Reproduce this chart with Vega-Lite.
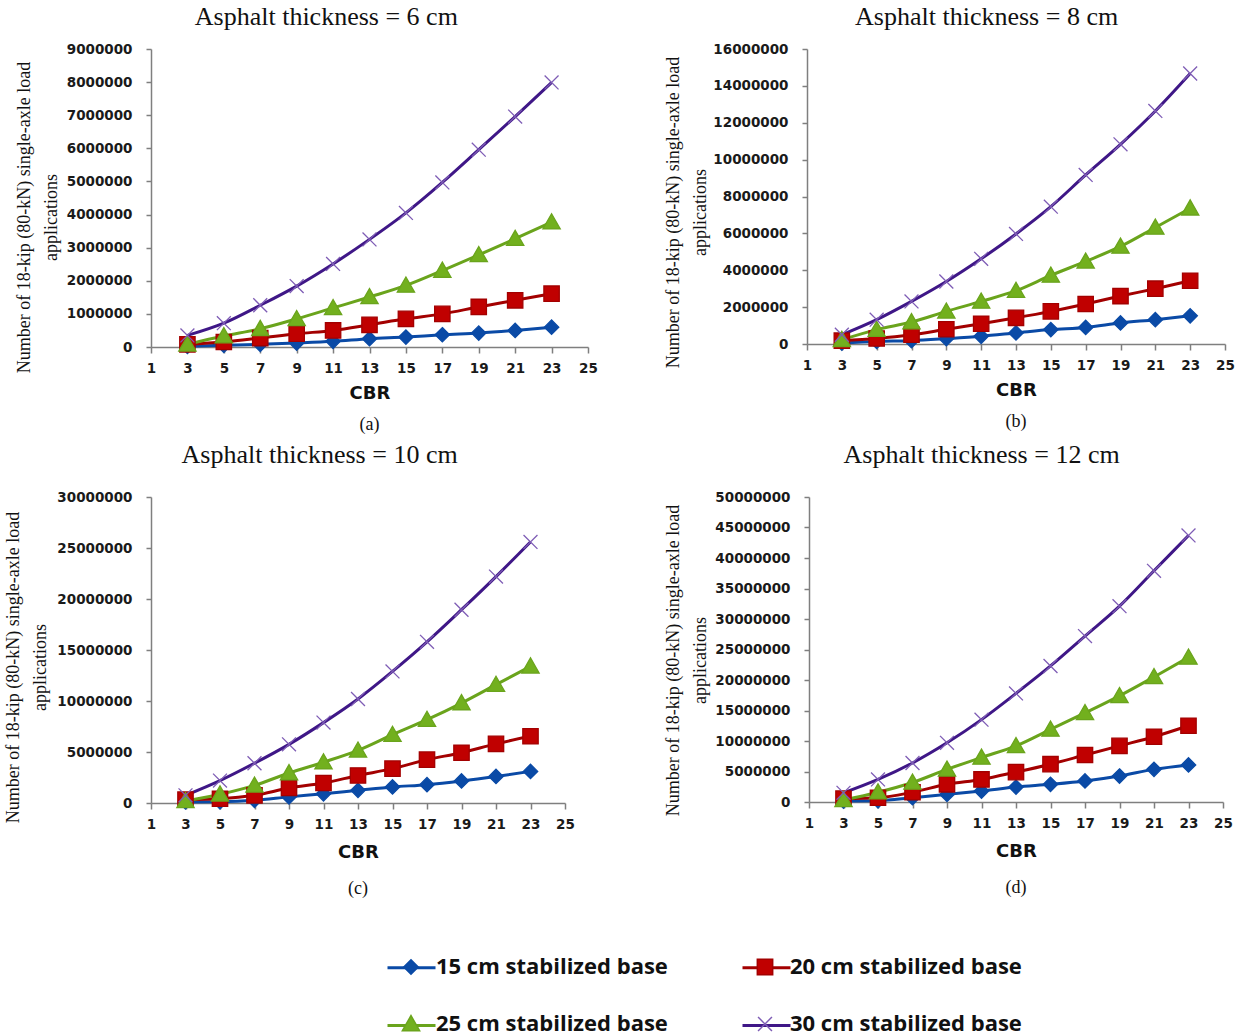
{
  "$schema": "https://vega.github.io/schema/vega-lite/v6.json",
  "padding": {"left": 4, "top": 4, "right": 0, "bottom": 0},
  "background": "white",
  "data": {"values": [
    {"p":"a","x":3,"s":15,"v":20000},{"p":"a","x":5,"s":15,"v":50000},{"p":"a","x":7,"s":15,"v":80000},{"p":"a","x":9,"s":15,"v":120000},{"p":"a","x":11,"s":15,"v":170000},{"p":"a","x":13,"s":15,"v":250000},{"p":"a","x":15,"s":15,"v":300000},{"p":"a","x":17,"s":15,"v":370000},{"p":"a","x":19,"s":15,"v":420000},{"p":"a","x":21,"s":15,"v":500000},{"p":"a","x":23,"s":15,"v":600000},
    {"p":"a","x":3,"s":20,"v":80000},{"p":"a","x":5,"s":20,"v":150000},{"p":"a","x":7,"s":20,"v":270000},{"p":"a","x":9,"s":20,"v":400000},{"p":"a","x":11,"s":20,"v":500000},{"p":"a","x":13,"s":20,"v":670000},{"p":"a","x":15,"s":20,"v":850000},{"p":"a","x":17,"s":20,"v":1000000},{"p":"a","x":19,"s":20,"v":1210000},{"p":"a","x":21,"s":20,"v":1410000},{"p":"a","x":23,"s":20,"v":1610000},
    {"p":"a","x":3,"s":25,"v":80000},{"p":"a","x":5,"s":25,"v":330000},{"p":"a","x":7,"s":25,"v":550000},{"p":"a","x":9,"s":25,"v":850000},{"p":"a","x":11,"s":25,"v":1180000},{"p":"a","x":13,"s":25,"v":1510000},{"p":"a","x":15,"s":25,"v":1860000},{"p":"a","x":17,"s":25,"v":2310000},{"p":"a","x":19,"s":25,"v":2780000},{"p":"a","x":21,"s":25,"v":3270000},{"p":"a","x":23,"s":25,"v":3770000},
    {"p":"a","x":3,"s":30,"v":350000},{"p":"a","x":5,"s":30,"v":720000},{"p":"a","x":7,"s":30,"v":1260000},{"p":"a","x":9,"s":30,"v":1840000},{"p":"a","x":11,"s":30,"v":2510000},{"p":"a","x":13,"s":30,"v":3250000},{"p":"a","x":15,"s":30,"v":4050000},{"p":"a","x":17,"s":30,"v":4970000},{"p":"a","x":19,"s":30,"v":5960000},{"p":"a","x":21,"s":30,"v":6960000},{"p":"a","x":23,"s":30,"v":7990000},
    {"p":"b","x":3,"s":15,"v":50000},{"p":"b","x":5,"s":15,"v":140000},{"p":"b","x":7,"s":15,"v":180000},{"p":"b","x":9,"s":15,"v":290000},{"p":"b","x":11,"s":15,"v":420000},{"p":"b","x":13,"s":15,"v":600000},{"p":"b","x":15,"s":15,"v":780000},{"p":"b","x":17,"s":15,"v":900000},{"p":"b","x":19,"s":15,"v":1140000},{"p":"b","x":21,"s":15,"v":1320000},{"p":"b","x":23,"s":15,"v":1530000},
    {"p":"b","x":3,"s":20,"v":180000},{"p":"b","x":5,"s":20,"v":300000},{"p":"b","x":7,"s":20,"v":500000},{"p":"b","x":9,"s":20,"v":800000},{"p":"b","x":11,"s":20,"v":1100000},{"p":"b","x":13,"s":20,"v":1420000},{"p":"b","x":15,"s":20,"v":1770000},{"p":"b","x":17,"s":20,"v":2170000},{"p":"b","x":19,"s":20,"v":2600000},{"p":"b","x":21,"s":20,"v":3000000},{"p":"b","x":23,"s":20,"v":3430000},
    {"p":"b","x":3,"s":25,"v":230000},{"p":"b","x":5,"s":25,"v":780000},{"p":"b","x":7,"s":25,"v":1190000},{"p":"b","x":9,"s":25,"v":1770000},{"p":"b","x":11,"s":25,"v":2310000},{"p":"b","x":13,"s":25,"v":2890000},{"p":"b","x":15,"s":25,"v":3720000},{"p":"b","x":17,"s":25,"v":4480000},{"p":"b","x":19,"s":25,"v":5290000},{"p":"b","x":21,"s":25,"v":6320000},{"p":"b","x":23,"s":25,"v":7360000},
    {"p":"b","x":3,"s":30,"v":500000},{"p":"b","x":5,"s":30,"v":1320000},{"p":"b","x":7,"s":30,"v":2310000},{"p":"b","x":9,"s":30,"v":3390000},{"p":"b","x":11,"s":30,"v":4620000},{"p":"b","x":13,"s":30,"v":5970000},{"p":"b","x":15,"s":30,"v":7450000},{"p":"b","x":17,"s":30,"v":9170000},{"p":"b","x":19,"s":30,"v":10830000},{"p":"b","x":21,"s":30,"v":12640000},{"p":"b","x":23,"s":30,"v":14670000},
    {"p":"c","x":3,"s":15,"v":100000},{"p":"c","x":5,"s":15,"v":120000},{"p":"c","x":7,"s":15,"v":260000},{"p":"c","x":9,"s":15,"v":600000},{"p":"c","x":11,"s":15,"v":900000},{"p":"c","x":13,"s":15,"v":1240000},{"p":"c","x":15,"s":15,"v":1570000},{"p":"c","x":17,"s":15,"v":1800000},{"p":"c","x":19,"s":15,"v":2160000},{"p":"c","x":21,"s":15,"v":2600000},{"p":"c","x":23,"s":15,"v":3100000},
    {"p":"c","x":3,"s":20,"v":330000},{"p":"c","x":5,"s":20,"v":420000},{"p":"c","x":7,"s":20,"v":750000},{"p":"c","x":9,"s":20,"v":1470000},{"p":"c","x":11,"s":20,"v":1960000},{"p":"c","x":13,"s":20,"v":2700000},{"p":"c","x":15,"s":20,"v":3370000},{"p":"c","x":17,"s":20,"v":4250000},{"p":"c","x":19,"s":20,"v":4930000},{"p":"c","x":21,"s":20,"v":5800000},{"p":"c","x":23,"s":20,"v":6540000},
    {"p":"c","x":3,"s":25,"v":200000},{"p":"c","x":5,"s":25,"v":850000},{"p":"c","x":7,"s":25,"v":1730000},{"p":"c","x":9,"s":25,"v":2940000},{"p":"c","x":11,"s":25,"v":4000000},{"p":"c","x":13,"s":25,"v":5160000},{"p":"c","x":15,"s":25,"v":6700000},{"p":"c","x":17,"s":25,"v":8170000},{"p":"c","x":19,"s":25,"v":9800000},{"p":"c","x":21,"s":25,"v":11600000},{"p":"c","x":23,"s":25,"v":13400000},
    {"p":"c","x":3,"s":30,"v":750000},{"p":"c","x":5,"s":30,"v":2200000},{"p":"c","x":7,"s":30,"v":3900000},{"p":"c","x":9,"s":30,"v":5750000},{"p":"c","x":11,"s":30,"v":7880000},{"p":"c","x":13,"s":30,"v":10200000},{"p":"c","x":15,"s":30,"v":12900000},{"p":"c","x":17,"s":30,"v":15800000},{"p":"c","x":19,"s":30,"v":18950000},{"p":"c","x":21,"s":30,"v":22200000},{"p":"c","x":23,"s":30,"v":25600000},
    {"p":"d","x":3,"s":15,"v":150000},{"p":"d","x":5,"s":15,"v":200000},{"p":"d","x":7,"s":15,"v":700000},{"p":"d","x":9,"s":15,"v":1250000},{"p":"d","x":11,"s":15,"v":1800000},{"p":"d","x":13,"s":15,"v":2450000},{"p":"d","x":15,"s":15,"v":2900000},{"p":"d","x":17,"s":15,"v":3450000},{"p":"d","x":19,"s":15,"v":4260000},{"p":"d","x":21,"s":15,"v":5350000},{"p":"d","x":23,"s":15,"v":6070000},
    {"p":"d","x":3,"s":20,"v":550000},{"p":"d","x":5,"s":20,"v":700000},{"p":"d","x":7,"s":20,"v":1600000},{"p":"d","x":9,"s":20,"v":2900000},{"p":"d","x":11,"s":20,"v":3700000},{"p":"d","x":13,"s":20,"v":4900000},{"p":"d","x":15,"s":20,"v":6200000},{"p":"d","x":17,"s":20,"v":7700000},{"p":"d","x":19,"s":20,"v":9200000},{"p":"d","x":21,"s":20,"v":10700000},{"p":"d","x":23,"s":20,"v":12500000},
    {"p":"d","x":3,"s":25,"v":330000},{"p":"d","x":5,"s":25,"v":1600000},{"p":"d","x":7,"s":25,"v":3200000},{"p":"d","x":9,"s":25,"v":5350000},{"p":"d","x":11,"s":25,"v":7300000},{"p":"d","x":13,"s":25,"v":9200000},{"p":"d","x":15,"s":25,"v":11900000},{"p":"d","x":17,"s":25,"v":14600000},{"p":"d","x":19,"s":25,"v":17400000},{"p":"d","x":21,"s":25,"v":20500000},{"p":"d","x":23,"s":25,"v":23700000},
    {"p":"d","x":3,"s":30,"v":1500000},{"p":"d","x":5,"s":30,"v":3700000},{"p":"d","x":7,"s":30,"v":6400000},{"p":"d","x":9,"s":30,"v":9700000},{"p":"d","x":11,"s":30,"v":13500000},{"p":"d","x":13,"s":30,"v":17800000},{"p":"d","x":15,"s":30,"v":22300000},{"p":"d","x":17,"s":30,"v":27200000},{"p":"d","x":19,"s":30,"v":32100000},{"p":"d","x":21,"s":30,"v":37900000},{"p":"d","x":23,"s":30,"v":43700000}
  ]},
  "vconcat": [
    {"spacing": 66, "hconcat": [
      {"title": {"text": "Asphalt thickness = 6 cm", "dx": 20},
       "vconcat": [{
        "width": 437, "height": 298,
        "title": {"text": "(a)", "orient": "bottom", "frame": "group", "font": "Liberation Serif", "fontSize": 18, "fontWeight": "normal", "offset": 13, "color": "#111"},
        "transform": [{"filter": "datum.p == 'a'"}],
        "encoding": {
          "x": {"field": "x", "type": "quantitative", "scale": {"domain": [1, 25], "nice": false}, "axis": {"values": [1,3,5,7,9,11,13,15,17,19,21,23,25], "title": "CBR"}},
          "y": {"field": "v", "type": "quantitative", "scale": {"domain": [0, 9000000], "nice": false}, "axis": {"values": [0,1000000,2000000,3000000,4000000,5000000,6000000,7000000,8000000,9000000], "format": "d", "titleY": 168, "titlePadding": 6, "title": ["Number of 18-kip (80-kN) single-axle load", "applications"]}}
        },
        "layer": [
          {"mark": {"type": "line", "interpolate": "monotone", "strokeWidth": 3},
           "encoding": {
             "color": {"field": "s", "type": "nominal", "scale": {"domain": [15,20,25,30], "range": ["#0A4AA6","#A30000","#6AA41C","#3F1787"]},
               "legend": {"values": [15,20,25,30], "orient": "none", "legendX": 235, "legendY": 893, "columns": 2, "direction": "horizontal", "title": null, "symbolType": "stroke", "symbolSize": 2304, "symbolStrokeWidth": 3, "symbolOpacity": 1, "labelFont": "Open Sans", "labelFontSize": 22, "labelFontWeight": "bold", "labelColor": "#111", "labelOpacity": 0, "columnPadding": 67, "rowPadding": 21, "labelOffset": 0, "labelLimit": 400, "labelExpr": "datum.label + ' cm stabilized base'"}}
           }},
          {"mark": {"type": "point", "filled": true, "size": 2304, "opacity": 1, "strokeWidth": 1.3},
           "encoding": {
             "shape": {"field": "s", "type": "nominal", "scale": {"domain": [15,20,25,30,0], "range": ["M0,-0.3L0.3,0L0,0.3L-0.3,0Z", "M-0.32,-0.32H0.32V0.32H-0.32Z", "M0,-0.35L0.36,0.28H-0.36Z", "M-0.29,-0.29L0.29,0.29M-0.29,0.29L0.29,-0.29", "circle"]},
               "legend": {"values": [15,20,25,30], "orient": "none", "legendX": 235, "legendY": 893, "columns": 2, "direction": "horizontal", "title": null, "symbolSize": 2304, "symbolStrokeWidth": 1.5, "symbolOpacity": 1, "labelFont": "Open Sans", "labelFontSize": 22, "labelFontWeight": "bold", "labelColor": "#111", "columnPadding": 72, "rowPadding": 21, "labelOffset": 0, "labelLimit": 400, "labelExpr": "datum.label + ' cm stabilized base'"}},
             "fill": {"field": "s", "type": "nominal", "scale": {"domain": [15,20,25,30,0], "range": ["#0A4AA6","#C00000","#72B01E","#7E5CB5","#000000"]},
               "legend": {"values": [15,20,25,30], "orient": "none", "legendX": 235, "legendY": 893, "columns": 2, "direction": "horizontal", "title": null, "symbolSize": 2304, "symbolStrokeWidth": 1.5, "symbolOpacity": 1, "labelFont": "Open Sans", "labelFontSize": 22, "labelFontWeight": "bold", "labelColor": "#111", "columnPadding": 72, "rowPadding": 21, "labelOffset": 0, "labelLimit": 400, "labelExpr": "datum.label + ' cm stabilized base'"}},
             "stroke": {"field": "s", "type": "nominal", "scale": {"domain": [15,20,25,30,0], "range": ["#0A4AA6","#A30000","#6AA41C","#7E5CB5","#000000"]},
               "legend": {"values": [15,20,25,30], "orient": "none", "legendX": 235, "legendY": 893, "columns": 2, "direction": "horizontal", "title": null, "symbolSize": 2304, "symbolStrokeWidth": 1.5, "symbolOpacity": 1, "labelFont": "Open Sans", "labelFontSize": 22, "labelFontWeight": "bold", "labelColor": "#111", "columnPadding": 72, "rowPadding": 21, "labelOffset": 0, "labelLimit": 400, "labelExpr": "datum.label + ' cm stabilized base'"}}
           }}
        ]
      }]},
      {"title": {"text": "Asphalt thickness = 8 cm", "dx": 37},
       "vconcat": [{
        "width": 418, "height": 295,
        "title": {"text": "(b)", "orient": "bottom", "frame": "group", "font": "Liberation Serif", "fontSize": 18, "fontWeight": "normal", "offset": 13, "color": "#111"},
        "transform": [{"filter": "datum.p == 'b'"}],
        "encoding": {
          "x": {"field": "x", "type": "quantitative", "scale": {"domain": [1, 25], "nice": false}, "axis": {"values": [1,3,5,7,9,11,13,15,17,19,21,23,25], "title": "CBR"}},
          "y": {"field": "v", "type": "quantitative", "scale": {"domain": [0, 16000000], "nice": false}, "axis": {"values": [0,2000000,4000000,6000000,8000000,10000000,12000000,14000000,16000000], "format": "d", "titleY": 163, "titlePadding": 3, "title": ["Number of 18-kip (80-kN) single-axle load", "applications"]}}
        },
        "layer": [
          {"mark": {"type": "line", "interpolate": "monotone", "strokeWidth": 3},
           "encoding": {"color": {"field": "s", "type": "nominal", "scale": {"domain": [15,20,25,30], "range": ["#0A4AA6","#A30000","#6AA41C","#3F1787"]}}}},
          {"mark": {"type": "point", "filled": true, "size": 2304, "opacity": 1, "strokeWidth": 1.3},
           "encoding": {
             "shape": {"field": "s", "type": "nominal", "scale": {"domain": [15,20,25,30,0], "range": ["M0,-0.3L0.3,0L0,0.3L-0.3,0Z", "M-0.32,-0.32H0.32V0.32H-0.32Z", "M0,-0.35L0.36,0.28H-0.36Z", "M-0.29,-0.29L0.29,0.29M-0.29,0.29L0.29,-0.29", "circle"]}},
             "fill": {"field": "s", "type": "nominal", "scale": {"domain": [15,20,25,30,0], "range": ["#0A4AA6","#C00000","#72B01E","#7E5CB5","#000000"]}},
             "stroke": {"field": "s", "type": "nominal", "scale": {"domain": [15,20,25,30,0], "range": ["#0A4AA6","#A30000","#6AA41C","#7E5CB5","#000000"]}}
           }}
        ]
      }]}
    ]},
    {"spacing": 89, "hconcat": [
      {"title": {"text": "Asphalt thickness = 10 cm", "dx": 30, "offset": 22},
       "vconcat": [{
        "width": 414, "height": 306,
        "title": {"text": "(c)", "orient": "bottom", "frame": "group", "font": "Liberation Serif", "fontSize": 18, "fontWeight": "normal", "offset": 18, "color": "#111"},
        "transform": [{"filter": "datum.p == 'c'"}],
        "encoding": {
          "x": {"field": "x", "type": "quantitative", "scale": {"domain": [1, 25], "nice": false}, "axis": {"values": [1,3,5,7,9,11,13,15,17,19,21,23,25], "title": "CBR", "titlePadding": 13}},
          "y": {"field": "v", "type": "quantitative", "scale": {"domain": [0, 30000000], "nice": false}, "axis": {"values": [0,5000000,10000000,15000000,20000000,25000000,30000000], "format": "d", "titleY": 170, "titlePadding": 7, "title": ["Number of 18-kip (80-kN) single-axle load", "applications"]}}
        },
        "layer": [
          {"mark": {"type": "line", "interpolate": "monotone", "strokeWidth": 3},
           "encoding": {"color": {"field": "s", "type": "nominal", "scale": {"domain": [15,20,25,30], "range": ["#0A4AA6","#A30000","#6AA41C","#3F1787"]}}}},
          {"mark": {"type": "point", "filled": true, "size": 2304, "opacity": 1, "strokeWidth": 1.3},
           "encoding": {
             "shape": {"field": "s", "type": "nominal", "scale": {"domain": [15,20,25,30,0], "range": ["M0,-0.3L0.3,0L0,0.3L-0.3,0Z", "M-0.32,-0.32H0.32V0.32H-0.32Z", "M0,-0.35L0.36,0.28H-0.36Z", "M-0.29,-0.29L0.29,0.29M-0.29,0.29L0.29,-0.29", "circle"]}},
             "fill": {"field": "s", "type": "nominal", "scale": {"domain": [15,20,25,30,0], "range": ["#0A4AA6","#C00000","#72B01E","#7E5CB5","#000000"]}},
             "stroke": {"field": "s", "type": "nominal", "scale": {"domain": [15,20,25,30,0], "range": ["#0A4AA6","#A30000","#6AA41C","#7E5CB5","#000000"]}}
           }}
        ]
      }]},
      {"title": {"text": "Asphalt thickness = 12 cm", "dx": 33, "offset": 22},
       "vconcat": [{
        "width": 414, "height": 305,
        "title": {"text": "(d)", "orient": "bottom", "frame": "group", "font": "Liberation Serif", "fontSize": 18, "fontWeight": "normal", "offset": 18, "color": "#111"},
        "transform": [{"filter": "datum.p == 'd'"}],
        "encoding": {
          "x": {"field": "x", "type": "quantitative", "scale": {"domain": [1, 25], "nice": false}, "axis": {"values": [1,3,5,7,9,11,13,15,17,19,21,23,25], "title": "CBR", "titlePadding": 13}},
          "y": {"field": "v", "type": "quantitative", "scale": {"domain": [0, 50000000], "nice": false}, "axis": {"values": [0,5000000,10000000,15000000,20000000,25000000,30000000,35000000,40000000,45000000,50000000], "format": "d", "titleY": 163, "titlePadding": 5, "title": ["Number of 18-kip (80-kN) single-axle load", "applications"]}}
        },
        "layer": [
          {"mark": {"type": "line", "interpolate": "monotone", "strokeWidth": 3},
           "encoding": {"color": {"field": "s", "type": "nominal", "scale": {"domain": [15,20,25,30], "range": ["#0A4AA6","#A30000","#6AA41C","#3F1787"]}}}},
          {"mark": {"type": "point", "filled": true, "size": 2304, "opacity": 1, "strokeWidth": 1.3},
           "encoding": {
             "shape": {"field": "s", "type": "nominal", "scale": {"domain": [15,20,25,30,0], "range": ["M0,-0.3L0.3,0L0,0.3L-0.3,0Z", "M-0.32,-0.32H0.32V0.32H-0.32Z", "M0,-0.35L0.36,0.28H-0.36Z", "M-0.29,-0.29L0.29,0.29M-0.29,0.29L0.29,-0.29", "circle"]}},
             "fill": {"field": "s", "type": "nominal", "scale": {"domain": [15,20,25,30,0], "range": ["#0A4AA6","#C00000","#72B01E","#7E5CB5","#000000"]}},
             "stroke": {"field": "s", "type": "nominal", "scale": {"domain": [15,20,25,30,0], "range": ["#0A4AA6","#A30000","#6AA41C","#7E5CB5","#000000"]}}
           }}
        ]
      }]}
    ]}
  ],
  "spacing": 8,
  "config": {
    "view": {"stroke": null},
    "title": {"font": "Liberation Serif", "fontSize": 26, "fontWeight": "normal", "color": "#111", "offset": 12, "anchor": "middle"},
    "axis": {"grid": false, "labelFont": "DejaVu Sans", "labelFontWeight": "bold", "labelFontSize": 13.5, "labelColor": "#1a1a1a", "domainColor": "#7f7f7f", "domainWidth": 1.5, "tickColor": "#7f7f7f", "tickWidth": 1.5, "labelFlush": false, "labelOverlap": false},
    "axisX": {"tickSize": 6, "labelPadding": 8, "titleFont": "DejaVu Sans", "titleFontWeight": "bold", "titleFontSize": 18, "titleColor": "#111", "titlePadding": 10},
    "axisY": {"tickSize": 5, "labelPadding": 14, "titleFont": "Liberation Serif", "titleFontSize": 18, "titleFontWeight": "normal", "titleColor": "#111", "titleLineHeight": 27}
  }
}
